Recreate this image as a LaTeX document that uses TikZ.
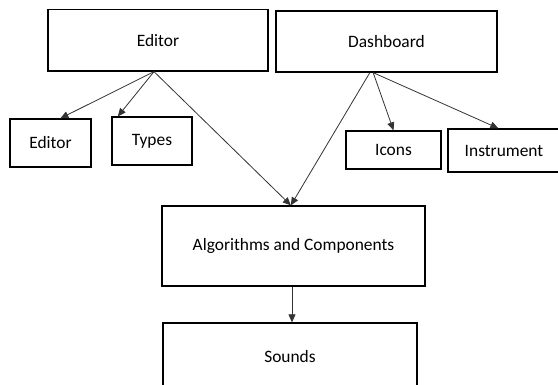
\documentclass[tikz,border=0pt]{standalone}
\usepackage{fontspec}
\setmainfont{Carlito}
\usetikzlibrary{arrows.meta,calc}
\begin{document}
\begin{tikzpicture}[x=1pt,y=-1pt,
  box/.style={draw=black,line width=1.3pt,inner sep=0pt,font=\fontsize{17.4}{19}\selectfont},
  conn/.style={draw=black!80,line width=0.8pt,-{Triangle[length=8pt,width=7pt]}}]
\clip (0,0) rectangle (558,385);
\fill[white] (0,0) rectangle (558,385);
\node[box,minimum width=220pt,minimum height=61.5pt] (ed) at (158,40.25) {Editor};
\node[box,minimum width=221pt,minimum height=61pt] (db) at (386.5,41.5) {Dashboard};
\node[box,minimum width=81pt,minimum height=48pt] (ed2) at (50.5,143) {Editor};
\node[box,minimum width=80pt,minimum height=48pt] (ty) at (152,141) {Types};
\node[box,minimum width=95pt,minimum height=38pt] (ic) at (393.5,150) {Icons};
\node[box,minimum width=112pt,minimum height=43pt] (ins) at (504,150.5) {Instrument};
\node[box,minimum width=263pt,minimum height=80pt] (alg) at (293.5,246) {Algorithms and Components};
\node[box,minimum width=254pt,minimum height=68pt] (snd) at (290,357) {Sounds};
\coordinate (edo) at ($(ed.south west)!0.482!(ed.south east)$);
\coordinate (dbo1) at ($(db.south west)!0.425!(db.south east)$);
\coordinate (dbo2) at ($(db.south west)!0.44!(db.south east)$);
\draw[conn] (edo) -- ($(ed2.north west)!0.62!(ed2.north east)$);
\draw[conn] (edo) -- ($(ty.north west)!0.08!(ty.north east)$);
\draw[conn] (edo) -- ($(alg.north west)!0.49!(alg.north east)$);
\draw[conn] (dbo1) -- ($(alg.north west)!0.49!(alg.north east)$);
\draw[conn] (dbo2) -- (ic.north);
\draw[conn] (dbo2) -- ($(ins.north west)!0.45!(ins.north east)$);
\draw[conn] (alg.south -| 292,0) -- (snd.north -| 292,0);
\end{tikzpicture}
\end{document}
